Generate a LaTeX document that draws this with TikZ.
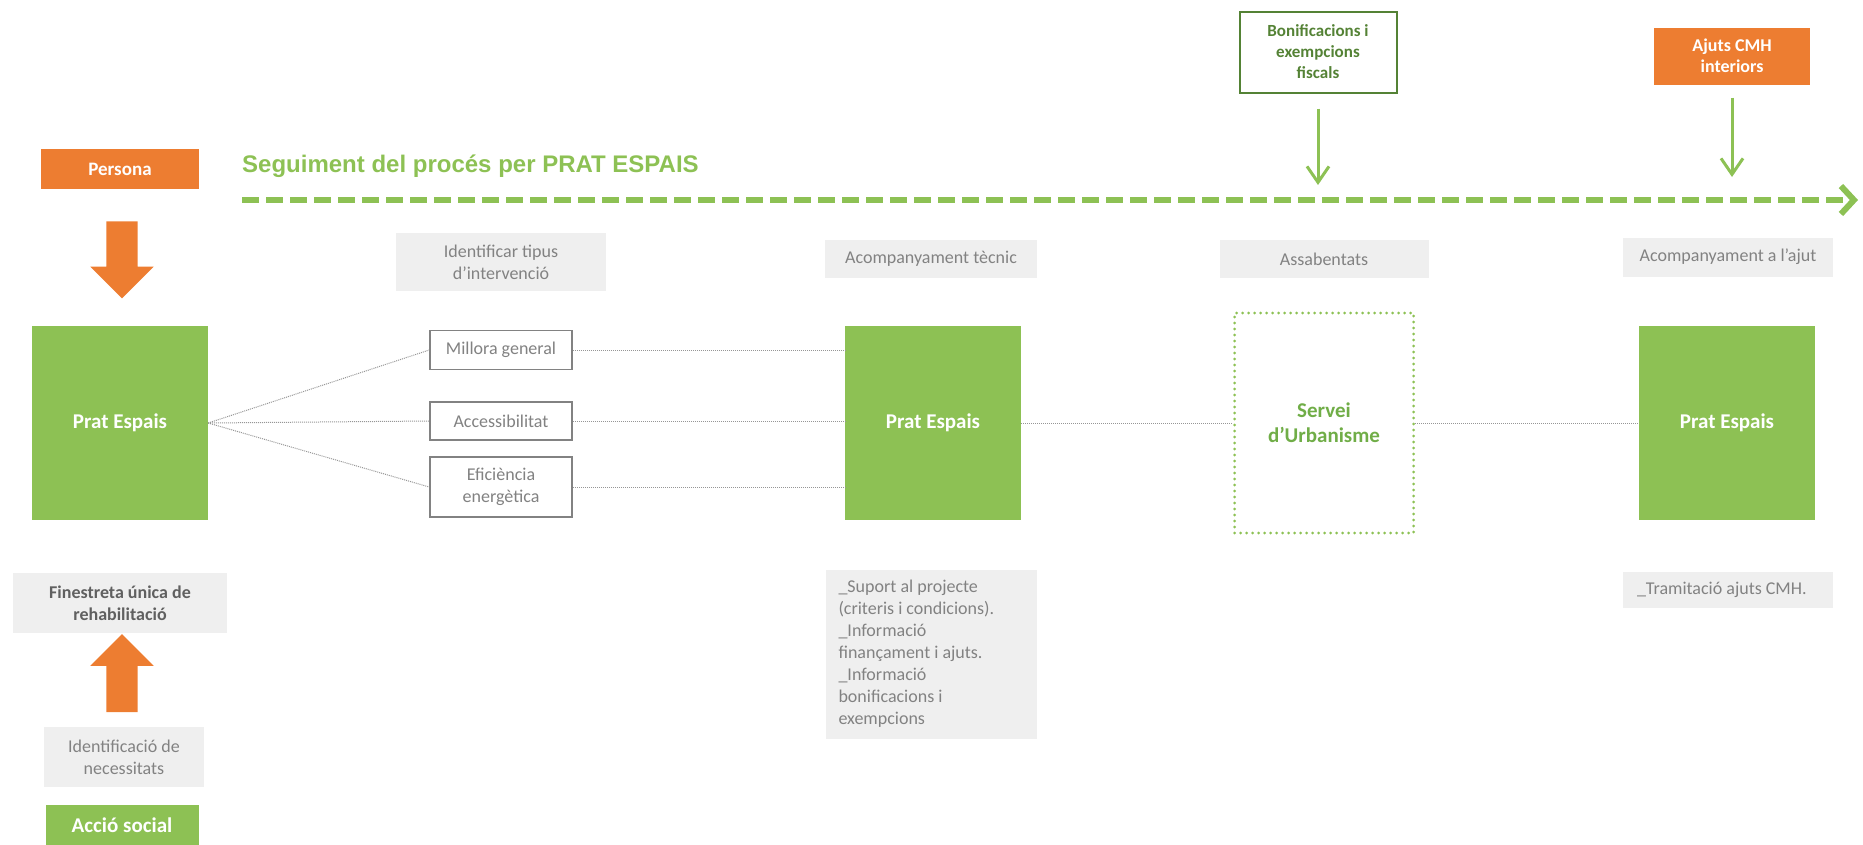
\documentclass[tikz,border=0pt]{standalone}
\usepackage{fontspec}
\setmainfont{Carlito}
\newfontfamily\titlefont{Liberation Sans}
\usepackage{tikz}
\usetikzlibrary{arrows.meta,shapes.arrows}

\definecolor{pratgreen}{RGB}{141,193,84}
\definecolor{pratorange}{RGB}{237,125,49}
\definecolor{boxgray}{RGB}{239,239,239}
\definecolor{textgray}{RGB}{130,130,130}
\definecolor{textdark}{RGB}{96,96,96}
\definecolor{linegray}{RGB}{150,150,150}
\definecolor{darkgreen}{RGB}{84,130,53}
\definecolor{urbgreen}{RGB}{112,173,71}

\begin{document}
\begin{tikzpicture}[x=1pt,y=-1pt,
		pratbox/.style={fill=pratgreen, text=white, font=\bfseries\fontsize{21}{25}\selectfont, minimum width=176pt, minimum height=194pt, inner sep=0pt},
		orangebox/.style={fill=pratorange, text=white, font=\bfseries\fontsize{19}{21}\selectfont, align=center, inner sep=0pt},
		graybox/.style={fill=boxgray, text=textgray, font=\fontsize{18}{22}\selectfont, align=center, inner sep=0pt},
		optionbox/.style={draw=textgray, line width=1.5pt, fill=white, text=textgray, font=\fontsize{18}{22}\selectfont, align=center, minimum width=142pt, inner sep=0pt},
		fatarrow/.style={single arrow, fill=pratorange, inner xsep=15.5pt, inner ysep=15.5pt, minimum width=63pt, single arrow head extend=16pt, single arrow tip angle=90},
		link/.style={densely dotted, draw=linegray, line width=1pt},
		thinarrow/.style={draw=pratgreen, line width=3pt, -{Straight Barb[length=16pt,width=22pt]}},
		timeline/.style={draw=pratgreen, line width=6pt, dash pattern=on 17pt off 7pt, -{Straight Barb[length=13pt,width=28pt]}}
	]
	\useasboundingbox (0,0) rectangle (1863,844);

	\node [orangebox, minimum width=158pt, minimum height=40pt] (persona) at (120,169) {Persona};
	\node [anchor=west, inner sep=0pt, text=pratgreen, font=\titlefont\bfseries\fontsize{24}{28}\selectfont] (title) at (242,166) {Seguiment del procés per PRAT ESPAIS};

	\coordinate (tlstart) at (242,200);
	\coordinate (tlend) at (1858,200);
	\draw [timeline] (tlstart) -- (tlend);

	\node [fatarrow, shape border rotate=270, minimum height=77pt] (downarrow) at (122,252) {};

	\node [pratbox] (prat1) at (120,423) {Prat Espais};

	\node [graybox, minimum width=210pt, minimum height=58pt] (identificar) at (501,262) {Identificar tipus\\d’intervenció};

	\node [optionbox, minimum height=39pt] (millora) at (501,350) {Millora general};
	\node [optionbox, minimum height=38pt] (access) at (501,421) {Accessibilitat};
	\node [optionbox, minimum height=60pt] (efic) at (501,487) {Eficiència\\energètica};

	\node [graybox, minimum width=212pt, minimum height=38pt] (tecnic) at (931,259) {Acompanyament tècnic};
	\node [pratbox] (prat2) at (933,423) {Prat Espais};
	\node [graybox, text width=185pt, align=flush left, minimum width=211pt, minimum height=169pt, inner xsep=13pt] (suport) at (931,654) {\_Suport al projecte\\(criteris i condicions).\\\_Informació\\finançament i ajuts.\\\_Informació\\bonificacions i\\exempcions};

	\node [draw=darkgreen, line width=2pt, text=darkgreen, font=\bfseries\fontsize{17}{21}\selectfont, align=center, minimum width=157pt, minimum height=81pt, inner sep=0pt] (bonif) at (1318,52) {Bonificacions i\\exempcions\\fiscals};
	\node [graybox, minimum width=209pt, minimum height=38pt] (assab) at (1324,259) {Assabentats};
	\node [draw=pratgreen, line width=3pt, dash pattern=on 0pt off 6pt, line cap=round, text=urbgreen, font=\bfseries\fontsize{21}{25}\selectfont, align=center, minimum width=179pt, minimum height=220pt, inner sep=0pt] (servei) at (1324,423) {Servei\\d’Urbanisme};

	\node [orangebox, font=\bfseries\fontsize{18}{21}\selectfont, minimum width=156pt, minimum height=57pt] (ajuts) at (1732,56) {Ajuts CMH\\interiors};
	\node [graybox, minimum width=210pt, minimum height=39pt] (ajut) at (1728,257) {Acompanyament a l’ajut};
	\node [pratbox] (prat3) at (1727,423) {Prat Espais};
	\node [graybox, text width=182pt, align=flush left, minimum width=210pt, minimum height=36pt, inner xsep=14pt] (tramitacio) at (1728,590) {\_Tramitació ajuts CMH.};

	\node [graybox, text=textdark, font=\bfseries\fontsize{18}{22}\selectfont, minimum width=214pt, minimum height=60pt] (finestreta) at (120,603) {Finestreta única de\\rehabilitació};
	\node [fatarrow, shape border rotate=90, minimum height=78pt] (uparrow) at (122,681) {};
	\node [graybox, minimum width=160pt, minimum height=60pt] (identificacio) at (124,757) {Identificació de\\necessitats};
	\node [pratbox, minimum width=153pt, minimum height=40pt] (acciosocial) at (122,825) {Acció social};

	\draw [link] (prat1.east) -- (millora.west);
	\draw [link] (prat1.east) -- (access.west);
	\draw [link] (prat1.east) -- (efic.west);
	\draw [link] (millora.east) -- (millora.east -| prat2.west);
	\draw [link] (access.east) -- (access.east -| prat2.west);
	\draw [link] (efic.east) -- (efic.east -| prat2.west);
	\draw [link] (prat2.east) -- (servei.west);
	\draw [link] (servei.east) -- (prat3.west);

	\draw [thinarrow, shorten <=15pt, shorten >=15pt] (bonif.south) -- (bonif.south |- tlstart);
	\draw [thinarrow, shorten <=13pt, shorten >=23pt] (ajuts.south) -- (ajuts.south |- tlstart);

\end{tikzpicture}
\end{document}
